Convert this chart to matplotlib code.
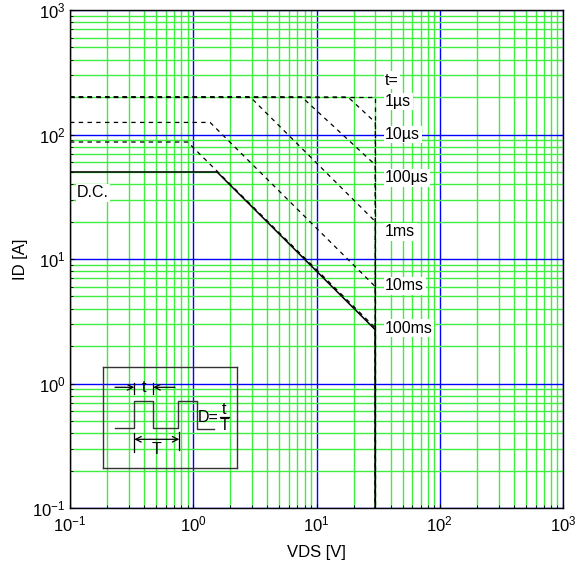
import numpy as np
import matplotlib.pyplot as plt
from matplotlib.ticker import LogLocator, NullFormatter, LogFormatterSciNotation

plt.rcParams['font.family'] = ['Liberation Sans', 'DejaVu Sans']
plt.rcParams['mathtext.fontset'] = 'custom'
plt.rcParams['mathtext.rm'] = 'Liberation Sans'
plt.rcParams['mathtext.it'] = 'Liberation Sans:italic'

# safe operating area, one curve per pulse width
pulse_names = ['1µs', '10µs', '100µs', '1ms', '10ms', '100ms', 'D.C.']
i_limit = [200, 200, 200, 200, 125, 87, 50]      # flat current limit [A]
v_knee = [30, 18, 7.6, 2.9, 1.37, 0.9, 1.56]     # end of flat part [V]
i_at_vmax = [200, 125, 57, 20, 6.0, 2.8, 2.7]    # current at VDS max [A]
v_max = 30
label_y = [184, 100, 45, 16.6, 6.1, 2.77]

fig = plt.figure(figsize=(5.8, 5.69), dpi=100)
ax = fig.add_axes([70 / 580, 1 - 508 / 569, 493 / 580, 498 / 569])
ax.set_xscale('log')
ax.set_yscale('log')
ax.set_xlim(0.1, 1000)
ax.set_ylim(0.1, 1000)

ax.xaxis.set_minor_locator(LogLocator(base=10, subs=np.arange(2, 10), numticks=20))
ax.yaxis.set_minor_locator(LogLocator(base=10, subs=np.arange(2, 10), numticks=20))
ax.xaxis.set_minor_formatter(NullFormatter())
ax.yaxis.set_minor_formatter(NullFormatter())
ax.xaxis.set_major_formatter(LogFormatterSciNotation())
ax.yaxis.set_major_formatter(LogFormatterSciNotation())

ax.set_axisbelow(True)
ax.grid(which='minor', color='#3fef3f', lw=1.0)
ax.grid(which='major', color='#0000ff', lw=1.0)
ax.tick_params(which='both', direction='in', labelsize=12)
ax.tick_params(axis='x', which='major', pad=5)
ax.tick_params(axis='y', which='major', pad=3)
ax.tick_params(which='major', length=3)
ax.tick_params(which='minor', length=2)
for s in ax.spines.values():
    s.set_linewidth(1.0)

for k in range(len(pulse_names)):
    xs = [0.1, v_knee[k], v_max, v_max]
    ys = [i_limit[k], i_limit[k], i_at_vmax[k], 0.1]
    if pulse_names[k] == 'D.C.':
        ax.plot(xs, ys, color='black', lw=1.1)
    else:
        ax.plot(xs, ys, color='black', lw=0.9, linestyle=(0, (3.5, 3.5)))

# labels right of the 30 V line
lab_x = 36
ax.text(lab_x, 272, 't=', fontsize=11.5, va='center', ha='left',
        bbox=dict(facecolor='white', edgecolor='none', pad=1))
for name, y in zip(pulse_names[:-1], label_y):
    ax.text(lab_x, y, name, fontsize=11.5, va='center', ha='left',
            bbox=dict(facecolor='white', edgecolor='none', pad=1))
ax.text(0.114, 34, 'D.C.', fontsize=11.5, va='center', ha='left',
        bbox=dict(facecolor='white', edgecolor='none', pad=1))

ax.set_xlabel('VDS [V]', fontsize=12, labelpad=7)
ax.set_ylabel('ID [A]', fontsize=12, labelpad=3)

# pulse sketch box
ins = fig.add_axes([103 / 580, 1 - 468 / 569, 134 / 580, 101 / 569], facecolor='none')
ins.set_xlim(0, 134)
ins.set_ylim(101, 0)
ins.set_xticks([])
ins.set_yticks([])
for s in ins.spines.values():
    s.set_color('#333333')
    s.set_linewidth(1.0)

wave_x = [12, 31.3, 31.3, 50.3, 50.3, 75.3, 75.3, 94.3, 94.3, 111]
wave_y = [61.3, 61.3, 33.7, 33.7, 61.3, 61.3, 33.7, 33.7, 62, 62]
ins.plot(wave_x, wave_y, color='#333333', lw=1.0)

ins.plot([31.3, 31.3], [16.3, 27], color='black', lw=0.9)
ins.plot([50.3, 50.3], [16.3, 27], color='black', lw=0.9)
ins.annotate('', xy=(31.3, 20.3), xytext=(12, 20.3),
             arrowprops=dict(arrowstyle='->', lw=0.9, shrinkA=0, shrinkB=0))
ins.annotate('', xy=(50.3, 20.3), xytext=(72, 20.3),
             arrowprops=dict(arrowstyle='->', lw=0.9, shrinkA=0, shrinkB=0))
ins.text(40.8, 21, 't', fontsize=11.5, ha='center', va='center')

ins.plot([31.3, 31.3], [66, 84.7], color='black', lw=0.9)
ins.plot([76.3, 76.3], [64.7, 83], color='black', lw=0.9)
ins.annotate('', xy=(31.3, 72.3), xytext=(76.3, 72.3),
             arrowprops=dict(arrowstyle='<->', lw=0.9, shrinkA=0, shrinkB=0))
ins.text(53, 82, 'T', fontsize=11.5, ha='center', va='center')

ins.text(95, 51, 'D=', fontsize=11.5, ha='left', va='center')
ins.plot([116.5, 125.5], [49.7, 49.7], color='black', lw=0.9)
ins.text(121, 43, 't', fontsize=11.5, ha='center', va='center')
ins.text(121, 59, 'T', fontsize=11.5, ha='center', va='center')

plt.savefig('out.png', dpi=100)
